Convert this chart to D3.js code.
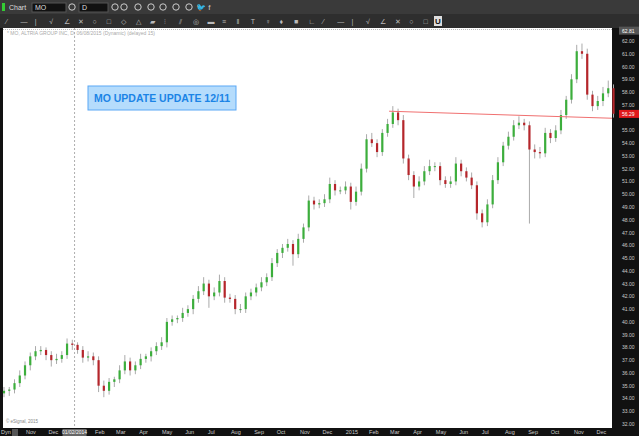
<!DOCTYPE html>
<html>
<head>
<meta charset="utf-8">
<script src="https://cdn.jsdelivr.net/npm/d3@7"></script>
<style>
body { margin: 0; background: #000; }
svg { display: block; font-family: "Liberation Sans", Arial, sans-serif; }
</style>
</head>
<body>
<svg id="chart" width="639" height="436"></svg>
<script>
// weekly closes, starting week of 2013-09-30
const closes = [34.6,34.7,35.2,35.8,36.6,37.3,37.7,37.8,37.4,37.0,37.1,37.4,38.3,38.2,37.8,37.2,37.3,37.0,35.0,34.6,
  35.3,35.5,36.2,36.9,36.2,36.6,37.1,37.3,37.7,38.1,38.4,40.0,40.2,40.3,40.7,41.0,41.8,42.4,43.0,42.0,
  42.3,43.2,41.9,41.8,41.0,41.0,42.0,42.3,42.7,43.1,43.5,44.6,45.4,45.8,46.1,45.3,46.5,47.4,49.5,49.2,
  49.3,49.6,50.8,50.3,50.3,50.6,49.4,50.2,52.0,54.3,54.0,53.3,54.8,55.5,56.4,55.8,52.8,51.5,50.6,51.0,
  51.8,52.2,52.2,51.1,50.8,51.0,52.4,51.8,51.3,50.7,48.5,47.8,49.2,51.1,52.5,53.8,54.5,55.4,55.6,55.4,
  53.5,53.3,53.2,54.8,54.4,55.0,56.2,57.4,59.0,61.2,61.0,57.8,56.9,57.3,57.9,58.3,56.3];
// weekly wick extents (above max(open,close) / below min(open,close))
const wickUp = [0.3,0.2,0.3,0.4,0.3,0.3,0.4,0.3,0.2,0.3,0.4,0.3,0.4,0.3,0.2,0.3,0.4,0.3,0.3,0.4,
  0.3,0.2,0.4,0.5,0.3,0.3,0.4,0.2,0.3,0.3,0.4,0.3,0.3,0.2,0.4,0.3,0.3,0.4,0.5,0.3,
  0.4,0.5,0.3,0.3,0.3,0.4,0.3,0.3,0.3,0.4,0.3,0.4,0.3,0.3,0.4,0.3,0.4,0.3,0.4,0.3,
  0.3,0.4,0.5,0.3,0.3,0.4,0.3,0.4,0.4,0.4,0.5,0.3,0.3,0.4,0.5,0.3,0.4,0.3,0.3,0.4,
  0.4,0.5,0.3,0.3,0.3,0.4,0.5,0.3,0.3,0.4,0.3,0.3,0.4,0.4,0.4,0.3,0.4,0.4,0.5,0.3,
  0.3,0.4,0.4,0.4,0.3,0.4,0.4,0.3,0.4,0.5,0.6,0.4,0.3,0.4,0.5,0.6,0.3];
const wickDown = [0.3,0.4,0.3,0.3,0.3,0.4,0.3,0.3,0.4,0.5,0.3,0.3,0.3,0.4,0.3,0.4,0.3,0.4,0.5,0.5,
  0.3,0.4,0.3,0.3,0.4,0.3,0.3,0.3,0.4,0.3,0.3,0.4,0.3,0.3,0.3,0.3,0.4,0.3,0.3,0.9,
  0.3,0.3,0.4,0.3,0.4,0.3,0.3,0.3,0.3,0.3,0.3,0.3,0.3,0.4,0.3,0.9,0.3,0.3,0.3,0.4,
  0.3,0.3,0.3,0.4,0.3,0.3,0.6,0.3,0.3,0.3,0.3,0.4,0.3,0.3,0.3,0.4,0.4,0.4,0.9,0.3,
  0.3,0.3,0.4,0.4,0.3,0.3,0.3,0.4,0.3,0.3,0.5,0.4,0.3,0.3,0.3,0.3,0.3,0.3,0.3,0.4,
  5.8,0.5,0.4,0.3,0.4,0.3,0.3,0.3,0.3,0.3,0.4,0.4,0.4,0.3,0.4,0.3,0.3];
const startDate = new Date(2013, 8, 30);
const endDate = new Date(2015, 11, 11);
const priceTicks = [62,61,60,59,58,57,56,55,54,53,52,51,50,49,48,47,46,45,44,43,42,41,40,39,38,37,36,35,34,33,32];
const monthTicks = [
  [new Date(2013,10,1),"Nov"],[new Date(2013,11,1),"Dec"],[new Date(2014,1,1),"Feb"],[new Date(2014,2,1),"Mar"],
  [new Date(2014,3,1),"Apr"],[new Date(2014,4,1),"May"],[new Date(2014,5,1),"Jun"],[new Date(2014,6,1),"Jul"],
  [new Date(2014,7,1),"Aug"],[new Date(2014,8,1),"Sep"],[new Date(2014,9,1),"Oct"],[new Date(2014,10,1),"Nov"],
  [new Date(2014,11,1),"Dec"],[new Date(2015,0,1),"2015"],[new Date(2015,1,1),"Feb"],[new Date(2015,2,1),"Mar"],
  [new Date(2015,3,1),"Apr"],[new Date(2015,4,1),"May"],[new Date(2015,5,1),"Jun"],[new Date(2015,6,1),"Jul"],
  [new Date(2015,7,1),"Aug"],[new Date(2015,8,1),"Sep"],[new Date(2015,9,1),"Oct"],[new Date(2015,10,1),"Nov"],
  [new Date(2015,11,1),"Dec"]];
const lastPrice = 56.29, topPrice = 62.81;
const resistance = [[new Date(2015,1,25), 56.5], [endDate, 55.95]];

const svg = d3.select("#chart");
const W = 639, H = 436;
const plot = { left: 3, right: 612, top: 28, bottom: 428 };

const x = d3.scaleTime().domain([startDate, endDate]).range([plot.left + 1, 606]);
const y = d3.scaleLinear().domain([32, 62]).range([424, 41]);

// toolbars
svg.append("rect").attr("width", W).attr("height", H).attr("fill", "#111");
svg.append("rect").attr("width", W).attr("height", 14).attr("fill", "#3a3a3a");
svg.append("rect").attr("y", 14).attr("width", W).attr("height", 14).attr("fill", "#2e2e2e");
svg.append("rect").attr("x", 2).attr("y", 3).attr("width", 3).attr("height", 8).attr("fill", "#3c3");
svg.append("text").attr("x", 9).attr("y", 10).attr("fill", "#ddd").attr("font-size", 7).text("Chart");
svg.append("rect").attr("x", 32).attr("y", 3).attr("width", 34).attr("height", 9).attr("fill", "#111").attr("stroke", "#555");
svg.append("text").attr("x", 35).attr("y", 10).attr("fill", "#ddd").attr("font-size", 7).text("MO");
svg.append("rect").attr("x", 79).attr("y", 3).attr("width", 29).attr("height", 9).attr("fill", "#111").attr("stroke", "#555");
svg.append("text").attr("x", 82).attr("y", 10).attr("fill", "#ddd").attr("font-size", 7).text("D");
[72, 115, 124, 138, 151, 163, 176, 189].forEach(cx =>
  svg.append("circle").attr("cx", cx).attr("cy", 7).attr("r", 3.2).attr("fill", "none").attr("stroke", "#ccc").attr("stroke-width", 1));
svg.append("text").attr("x", 196).attr("y", 10).attr("fill", "#ccc").attr("font-size", 8).text("🐦 f");
d3.range(0, 30).forEach(i => {
  svg.append("text").attr("x", 6 + i * 14.4).attr("y", 24).attr("fill", "#bbb").attr("font-size", 7).text(["⁄","—","|","√","∠","✕","○","□","◇","△","▰","⫶","⫽","◎","▬","≡","‖","T","♀","♦","■","∟"][i % 22]);
});
svg.append("rect").attr("x", 434).attr("y", 16).attr("width", 8).attr("height", 10).attr("fill", "#ddd");
svg.append("text").attr("x", 435).attr("y", 24).attr("fill", "#111").attr("font-size", 8).attr("font-weight", "bold").text("U");

// plot area
svg.append("rect").attr("x", plot.left).attr("y", plot.top)
  .attr("width", plot.right - plot.left).attr("height", plot.bottom - plot.top).attr("fill", "#fff");
svg.append("line").attr("x1", plot.left).attr("x2", plot.right).attr("y1", plot.top + 1.5).attr("y2", plot.top + 1.5)
  .attr("stroke", "#bbb").attr("stroke-dasharray", "1,1");
svg.append("text").attr("x", 7).attr("y", 35).attr("fill", "#aaa").attr("font-size", 5)
  .text("* MO, ALTRIA GROUP INC, D, 06/08/2015 (Dynamic) (delayed 15)");
svg.append("text").attr("x", 6).attr("y", 423).attr("fill", "#888").attr("font-size", 4.5).text("© eSignal, 2015");

// dashed Jan 2014 cursor line
const jan = x(new Date(2014, 0, 2));
svg.append("line").attr("x1", jan).attr("x2", jan).attr("y1", plot.top).attr("y2", plot.bottom)
  .attr("stroke", "#999").attr("stroke-dasharray", "2,2").attr("stroke-width", 0.8);

// candles
const bars = closes.map((c, i) => {
  const o = i === 0 ? c - 0.2 : closes[i - 1];
  const d = d3.timeDay.offset(startDate, 7 * i);
  return { d, o, c, h: Math.max(o, c) + wickUp[i], l: Math.min(o, c) - wickDown[i] };
});
const g = svg.append("g");
g.selectAll("line.wick").data(bars).join("line")
  .attr("x1", d => x(d.d)).attr("x2", d => x(d.d))
  .attr("y1", d => y(d.h)).attr("y2", d => y(d.l))
  .attr("stroke", "#aaa").attr("stroke-width", 1);
g.selectAll("rect.body").data(bars).join("rect")
  .attr("x", d => x(d.d) - 1.1).attr("width", 2.2)
  .attr("y", d => y(Math.max(d.o, d.c)))
  .attr("height", d => Math.max(1, Math.abs(y(d.o) - y(d.c))))
  .attr("fill", d => d.c >= d.o ? "#3cae3c" : "#b5262b");

// resistance line
svg.append("line")
  .attr("x1", x(resistance[0][0])).attr("y1", y(resistance[0][1]))
  .attr("x2", plot.right).attr("y2", y(resistance[1][1]))
  .attr("stroke", "#f07070").attr("stroke-width", 1);

// annotation
svg.append("rect").attr("x", 88).attr("y", 86).attr("width", 148).attr("height", 24)
  .attr("fill", "#b5dcfc").attr("stroke", "#5aa8f5");
svg.append("text").attr("x", 162).attr("y", 102).attr("text-anchor", "middle")
  .attr("fill", "#1b84e6").attr("font-size", 10.5).attr("font-weight", "bold")
  .text("MO UPDATE UPDATE 12/11");

// price axis
svg.selectAll("text.pt").data(priceTicks.filter(v => Math.abs(y(v) - y(lastPrice)) > 6 && Math.abs(y(v) - y(topPrice)) > 6)).join("text")
  .attr("x", 622).attr("y", d => y(d) + 2).attr("fill", "#ccc").attr("font-size", 5).text(d => d.toFixed(2));
svg.append("rect").attr("x", 619).attr("y", y(topPrice) - 4).attr("width", 20).attr("height", 8).attr("fill", "#555");
svg.append("text").attr("x", 622).attr("y", y(topPrice) + 2).attr("fill", "#fff").attr("font-size", 5).text(topPrice.toFixed(2));
svg.append("rect").attr("x", 619).attr("y", y(lastPrice) - 4).attr("width", 20).attr("height", 8).attr("fill", "#e0191c");
svg.append("text").attr("x", 622).attr("y", y(lastPrice) + 2).attr("fill", "#fff").attr("font-size", 5).text(lastPrice.toFixed(2));

// time axis
svg.append("text").attr("x", 1).attr("y", 434).attr("fill", "#ccc").attr("font-size", 5.5).text("Dyn");
svg.append("rect").attr("x", 12).attr("y", 429).attr("width", 6).attr("height", 7).attr("fill", "#555");
svg.selectAll("text.mt").data(monthTicks).join("text")
  .attr("x", d => x(d[0]) - 2).attr("y", 434).attr("fill", "#ccc").attr("font-size", 5.5).text(d => d[1]);
svg.append("rect").attr("x", jan - 12).attr("y", 429).attr("width", 24).attr("height", 7).attr("fill", "#666");
svg.append("text").attr("x", jan).attr("y", 434).attr("text-anchor", "middle").attr("fill", "#fff").attr("font-size", 5).text("01/02/2014");
</script>
</body>
</html>
